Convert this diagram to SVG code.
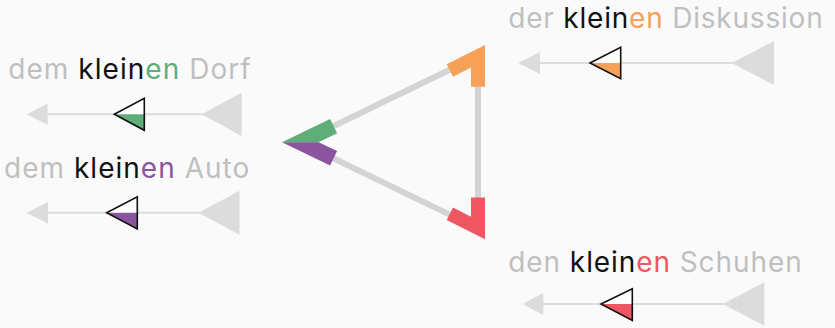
<svg xmlns="http://www.w3.org/2000/svg" width="835" height="328" viewBox="0 0 835 328">
<style>
.bg{fill:#fafafa}
.lbl{font-family:"Inter","Liberation Sans",sans-serif;font-size:28px;fill:#bfbfbf}
.k{fill:#111111}
.g{fill:#5fae79}.p{fill:#8a559e}.o{fill:#f7a057}.r{fill:#ee5662}
.axis{stroke:#dcdcdc;stroke-width:2;fill:none}
.ah{fill:#dcdcdc}
.mid{fill:#ffffff;stroke:none}
.out{fill:none;stroke:#111111;stroke-width:1.6;stroke-linejoin:miter}
.edge{stroke:#d4d4d4;stroke-width:6;fill:none}
</style>
<rect class="bg" x="0" y="0" width="835" height="328"/>
<g id="connectors">
<line class="edge" x1="300.3" y1="142.2" x2="478" y2="56"/>
<line class="edge" x1="300.3" y1="142.2" x2="478" y2="228.4"/>
<line class="edge" x1="478" y1="56" x2="478" y2="228.4"/>
</g>
<g id="corner-top">
<polygon class="o" points="485,45 485,86.7 471,86.7 471,67.5 453,76.7 446.7,64.2"/>
</g>
<g id="corner-bottom">
<polygon class="r" points="485,239.3 485,197.6 471,197.6 471,216.8 453,207.6 446.7,220.1"/>
</g>
<g id="corner-left">
<polygon class="g" points="282,142.2 330.1,118.9 337.1,133.3 318.6,142.2"/>
<polygon class="p" points="282,142.2 318.6,142.2 337.1,151.1 330.1,165.5"/>
</g>
<g id="dorf">
<text class="lbl" x="8.3" y="79.3" textLength="242.4">dem <tspan class="k">klein</tspan><tspan class="g">en</tspan> Dorf</text>
<line class="axis" x1="46" y1="114.3" x2="203" y2="114.3"/>
<polygon class="ah" points="26.7,114.3 47.7,103.5 47.7,125.1"/>
<polygon class="ah" points="201.7,114.3 241.7,92.5 241.7,136.1"/>
<polygon class="mid" points="114.3,114.3 144.3,98.3 144.3,130.3"/>
<polygon class="g" points="114.3,114.3 144.3,114.3 144.3,130.3"/>
<polygon class="out" points="114.3,114.3 144.3,98.3 144.3,130.3"/>
</g>
<g id="auto">
<text class="lbl" x="4" y="178.3" textLength="245.3">dem <tspan class="k">klein</tspan><tspan class="p">en</tspan> Auto</text>
<line class="axis" x1="46" y1="212.8" x2="200" y2="212.8"/>
<polygon class="ah" points="26.7,212.8 48,201.8 48,223.8"/>
<polygon class="ah" points="198.5,212.8 239.5,190.8 239.5,234.8"/>
<polygon class="mid" points="106.7,212.8 137.3,196.7 137.3,228.9"/>
<polygon class="p" points="106.7,212.8 137.3,212.8 137.3,228.9"/>
<polygon class="out" points="106.7,212.8 137.3,196.7 137.3,228.9"/>
</g>
<g id="diskussion">
<text class="lbl" x="508.3" y="28.3" textLength="314.4">der <tspan class="k">klein</tspan><tspan class="o">en</tspan> Diskussion</text>
<line class="axis" x1="538" y1="63" x2="733" y2="63"/>
<polygon class="ah" points="518.3,63 540,52 540,74"/>
<polygon class="ah" points="731.7,63 774,41 774,85"/>
<polygon class="mid" points="590,63 620.7,47.2 620.7,78.8"/>
<polygon class="o" points="590,63 620.7,63 620.7,78.8"/>
<polygon class="out" points="590,63 620.7,47.2 620.7,78.8"/>
</g>
<g id="schuhen">
<text class="lbl" x="508.3" y="271.7" textLength="293.4">den <tspan class="k">klein</tspan><tspan class="r">en</tspan> Schuhen</text>
<line class="axis" x1="541" y1="304" x2="724" y2="304"/>
<polygon class="ah" points="522.7,304 543.3,293 543.3,315"/>
<polygon class="ah" points="722.7,304 764.3,282.3 764.3,325.7"/>
<polygon class="mid" points="601,304 632.3,288.8 632.3,320.4"/>
<polygon class="r" points="601,304 632.3,304 632.3,320.4"/>
<polygon class="out" points="601,304 632.3,288.8 632.3,320.4"/>
</g>
</svg>
